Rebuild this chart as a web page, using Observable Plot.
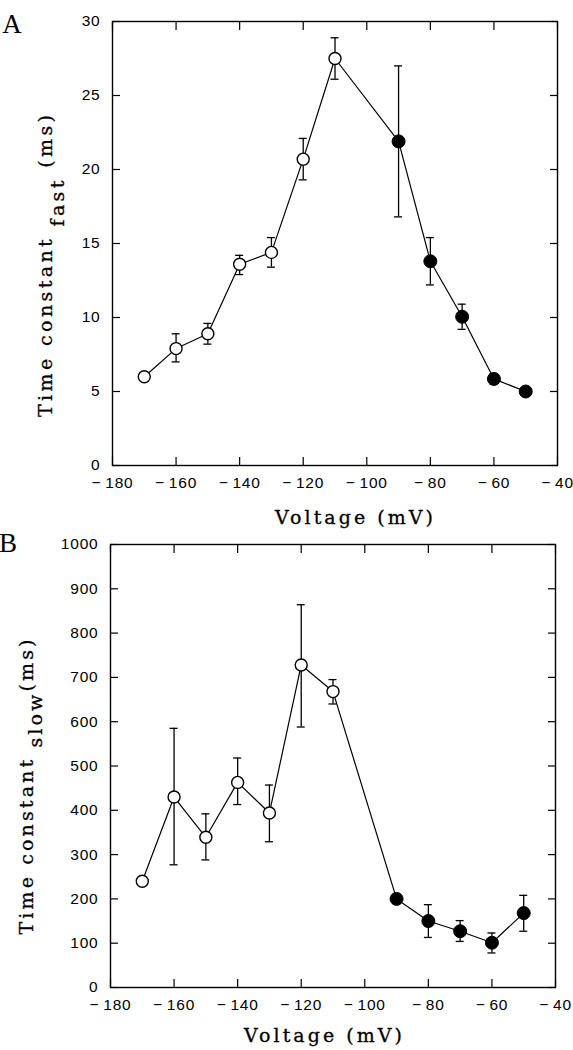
<!DOCTYPE html>
<html><head><meta charset="utf-8">
<script src="https://cdn.jsdelivr.net/npm/d3@7"></script>
<script src="https://cdn.jsdelivr.net/npm/@observablehq/plot@0.6"></script>
<style>
body{margin:0;background:#fff;}
#wrap{position:relative;width:573px;height:1050px;overflow:hidden;background:#fff;}
#wrap svg{display:block;overflow:visible;position:relative;}
</style></head><body><div id="wrap"></div>
<script>
// Data
const voltages = [-170, -160, -150, -140, -130, -120, -110, -90, -80, -70, -60, -50];
const markers  = ["open","open","open","open","open","open","open","filled","filled","filled","filled","filled"];
const fastMean = [6.0, 7.9, 8.9, 13.6, 14.4, 20.7, 27.5, 21.9, 13.8, 10.05, 5.85, 5.0];
const fastLow  = [6.0, 7.0, 8.2, 12.9, 13.4, 19.3, 26.1, 16.8, 12.2, 9.2, 5.5, 5.0];
const fastHigh = [6.0, 8.9, 9.6, 14.2, 15.4, 22.1, 28.9, 27.0, 15.4, 10.9, 6.2, 5.0];
const slowMean = [240, 430, 339, 463, 394, 728, 668, 200, 150, 127, 101, 168];
const slowLow  = [240, 277, 288, 413, 329, 588, 640, 200, 113, 104, 78, 127];
const slowHigh = [240, 585, 392, 518, 457, 864, 695, 200, 187, 151, 123, 208];
const xTicks = [-180, -160, -140, -120, -100, -80, -60, -40];
const fastTicks = [0, 5, 10, 15, 20, 25, 30];
const slowTicks = [0, 100, 200, 300, 400, 500, 600, 700, 800, 900, 1000];
const xLabel = "Voltage (mV)";
const yLabelMain = "Time constant ";
const fastSub = "fast";
const slowSub = "slow";
const unit = "(ms)";

const fmtX = d => d < 0 ? "\u2212\u2009" + Math.abs(d) : String(d);
const fmtY = d => String(d);
const labelFont = "'DejaVu Serif','Liberation Serif',serif";

function panel(opts) {
  const data = voltages.map((v, i) => ({v, m: opts.mean[i], lo: opts.low[i], hi: opts.high[i], kind: markers[i]}));
  const err = data.filter(d => d.hi > d.lo);
  const sw = 1.3;
  const svg = Plot.plot({
    width: 573, height: 525,
    marginLeft: opts.ml, marginRight: opts.mr, marginTop: opts.mt, marginBottom: opts.mb,
    style: {fontFamily: "'Liberation Sans', Arial, sans-serif", fontSize: "15.5px", color: "#000", background: "transparent", letterSpacing: "0.8px", overflow: "visible"},
    x: {domain: [-180, -40]},
    y: {domain: opts.domain},
    marks: [
      Plot.axisX(xTicks, {anchor: "bottom", tickSize: -8, tickPadding: 19, tickFormat: fmtX, label: null, strokeWidth: 1.2}),
      Plot.axisX(xTicks, {anchor: "top", tickSize: -8, tickFormat: () => "", label: null, strokeWidth: 1.2}),
      Plot.axisY(opts.ticks, {anchor: "left", tickSize: -8, tickPadding: 20, tickFormat: fmtY, label: null, strokeWidth: 1.2}),
      Plot.axisY(opts.ticks, {anchor: "right", tickSize: -8, tickFormat: () => "", label: null, strokeWidth: 1.2}),
      Plot.frame({strokeWidth: 1.4}),
      Plot.ruleX(err, {x: "v", y1: "lo", y2: "hi", strokeWidth: sw}),
      Plot.ruleY(err, {y: "lo", x1: "v", x2: "v", insetLeft: -4, insetRight: -4, strokeWidth: sw}),
      Plot.ruleY(err, {y: "hi", x1: "v", x2: "v", insetLeft: -4, insetRight: -4, strokeWidth: sw}),
      Plot.line(data, {x: "v", y: "m", strokeWidth: 1.2}),
      Plot.dot(data.filter(d => d.kind === "open"), {x: "v", y: "m", r: 6, fill: "white", stroke: "black", strokeWidth: 1.4}),
      Plot.dot(data.filter(d => d.kind === "filled"), {x: "v", y: "m", r: 6.5, fill: "black", stroke: "black", strokeWidth: 1})
    ]
  });
  const s = d3.select(svg);
  // panel letter
  s.append("text").attr("x", opts.letterX).attr("y", opts.letterY)
    .attr("font-family", "'Liberation Serif','Times New Roman',serif").attr("font-size", 27)
    .attr("letter-spacing", 0).attr("fill", "black").text(opts.letter);
  // x label
  s.append("text").attr("x", opts.xlx).attr("y", opts.xly).attr("text-anchor", "middle")
    .attr("font-family", labelFont).attr("font-size", 19).attr("letter-spacing", 0)
    .attr("textLength", 158).attr("lengthAdjust", "spacing")
    .attr("fill", "black").attr("stroke", "black").attr("stroke-width", 0.3).text(xLabel);
  // y label with subscript
  const t = s.append("text")
    .attr("transform", `translate(${opts.ylx},${opts.yly}) rotate(-90)`)
    .attr("text-anchor", "middle").attr("font-family", labelFont).attr("font-size", 19).attr("letter-spacing", 0)
    .attr("textLength", opts.ylen).attr("lengthAdjust", "spacing")
    .attr("fill", "black").attr("stroke", "black").attr("stroke-width", 0.3);
  t.append("tspan").text(yLabelMain);
  t.append("tspan").attr("dy", opts.subShift).text(opts.sub);
  t.append("tspan").attr("dy", -opts.subShift).text(opts.unitText);
  return svg;
}

const wrap = document.getElementById("wrap");
wrap.appendChild(panel({
  mean: fastMean, low: fastLow, high: fastHigh, domain: [0, 30], ticks: fastTicks,
  ml: 112, mr: 16, mt: 21, mb: 60,
  letter: "A", letterX: 12, letterY: 33,
  xlx: 354, xly: 524,
  ylx: 52, yly: 266, ylen: 302, sub: fastSub, subShift: 12, unitText: " " + unit
}));
wrap.appendChild(panel({
  mean: slowMean, low: slowLow, high: slowHigh, domain: [0, 1000], ticks: slowTicks,
  ml: 110, mr: 18, mt: 19, mb: 63,
  letter: "B", letterX: 8, letterY: 27,
  xlx: 323, xly: 517,
  ylx: 33, yly: 262, ylen: 295, sub: slowSub, subShift: 9, unitText: unit
}));
</script></body></html>
